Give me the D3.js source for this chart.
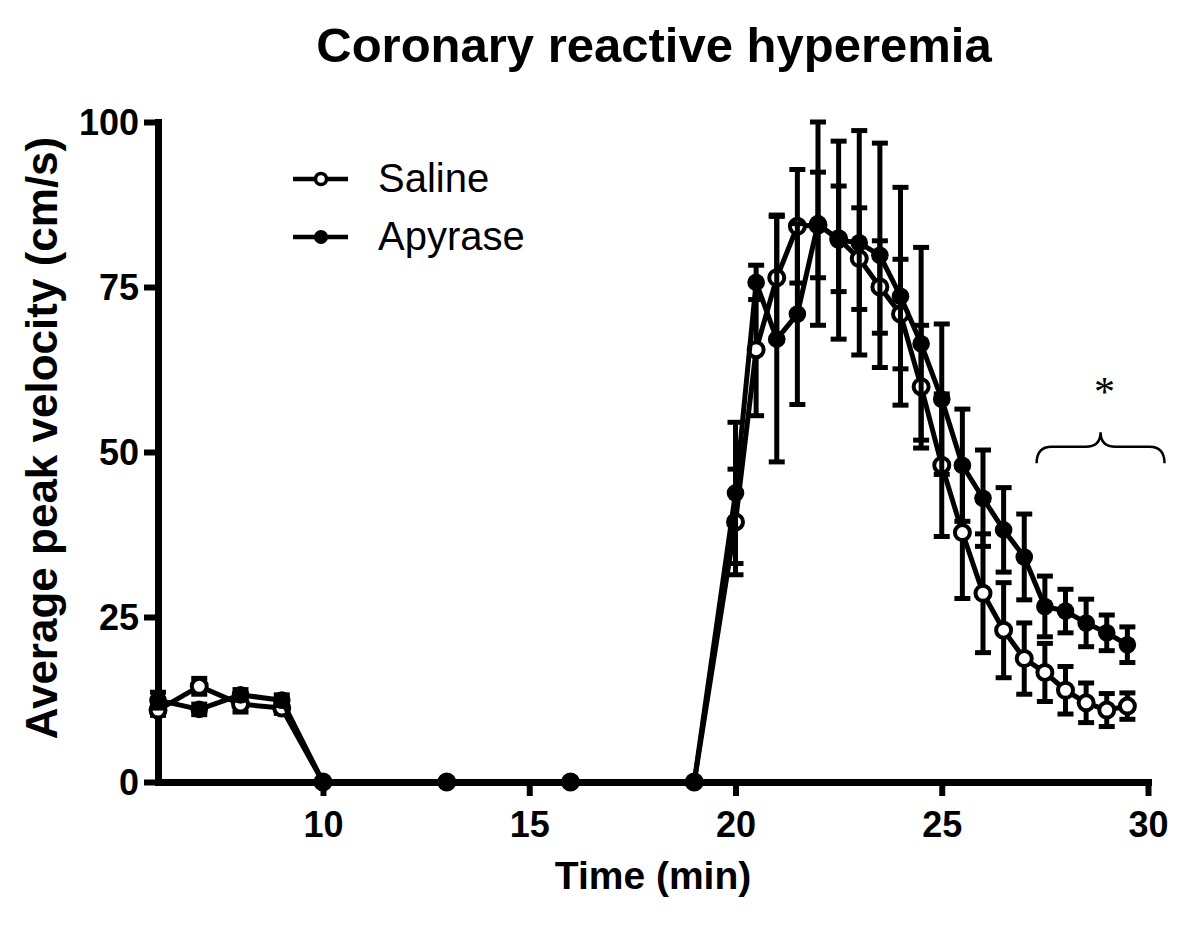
<!DOCTYPE html>
<html>
<head>
<meta charset="utf-8">
<script src="https://cdn.jsdelivr.net/npm/d3@7"></script>
<style>
  html, body { margin: 0; padding: 0; background: #fff; }
  svg { display: block; }
  text { font-family: "Liberation Sans", Arial, sans-serif; fill: #000; }
</style>
</head>
<body>
<svg id="chart" width="1200" height="934"></svg>
<script>
// ---- data ----
const times = [6, 7, 8, 9, 10, 13, 16, 19, 20, 20.5, 21, 21.5, 22, 22.5, 23, 23.5, 24, 24.5, 25, 25.5, 26, 26.5, 27, 27.5, 28, 28.5, 29, 29.5];
const salineMean = [10.9, 14.5, 11.8, 11.2, 0, 0, 0, 0, 39.4, 65.5, 76.4, 84.2, 84.4, 82.3, 79.3, 75.0, 70.9, 59.9, 48.0, 37.8, 28.6, 23.0, 18.7, 16.6, 13.9, 12.0, 10.9, 11.5];
const salineErr  = [0.8, 1.2, 1.2, 0.8, 0, 0, 0, 0, 8.0, 10.0, 9.5, 8.6, 8.0, 8.0, 7.7, 7.0, 8.3, 9.3, 10.8, 10.0, 9.0, 7.2, 5.4, 4.4, 3.6, 3.0, 2.5, 2.0];
const apyraseMean = [12.4, 11.0, 13.2, 12.4, 0, 0, 0, 0, 43.8, 75.7, 67.1, 70.9, 84.6, 82.1, 81.7, 79.8, 73.6, 66.4, 58.0, 48.0, 43.0, 38.2, 34.1, 26.6, 25.9, 24.1, 22.6, 20.8];
const apyraseErr  = [1.2, 0.8, 0.8, 0.8, 0, 0, 0, 0, 10.7, 2.6, 18.6, 13.7, 15.4, 15.0, 17.0, 17.0, 16.5, 14.6, 11.4, 8.5, 7.3, 6.4, 6.5, 4.6, 3.3, 3.6, 2.7, 2.7];
const xTicks = [10, 15, 20, 25, 30];
const yTicks = [0, 25, 50, 75, 100];
const seriesNames = ["Saline", "Apyrase"];
const titleText = "Coronary reactive hyperemia";
const xLabel = "Time (min)";
const yLabel = "Average peak velocity (cm/s)";
// significance brace over the last minutes (x range, y levels)
const braceX = [27.3, 30.4];
const braceY = [48.3, 50.8, 53.0];
const sigMark = "*";

// ---- layout ----
const svg = d3.select("#chart");
const x = d3.scaleLinear().domain([6, 30]).range([158, 1148]);
const y = d3.scaleLinear().domain([0, 100]).range([782, 122]);

// title
svg.append("text").attr("x", 654).attr("y", 62).attr("text-anchor", "middle")
  .style("font-size", "49px").style("font-weight", "bold").text(titleText);

// axes
const axisW = 7;
const xAxis = svg.append("g").attr("transform", `translate(0,${y(0)})`)
  .call(d3.axisBottom(x).tickValues(xTicks).tickSize(14).tickSizeOuter(0).tickPadding(15));
const yAxis = svg.append("g").attr("transform", `translate(${x(6)},0)`)
  .call(d3.axisLeft(y).tickValues(yTicks).tickSize(14).tickSizeOuter(0).tickPadding(5));
[xAxis, yAxis].forEach(g => {
  g.select(".domain").attr("stroke", "#000").attr("stroke-width", axisW).attr("stroke-linecap", "square");
  g.selectAll(".tick line").attr("stroke", "#000").attr("stroke-width", 6);
  g.selectAll(".tick text").style("font-size", "36px").style("font-weight", "bold")
    .style("font-family", "'Liberation Sans', Arial, sans-serif").attr("fill", "#000");
});
xAxis.selectAll(".tick text").attr("dy", "0.71em");
yAxis.selectAll(".tick text").attr("dy", "0.36em");

// axis labels
svg.append("text").attr("x", 653).attr("y", 889).attr("text-anchor", "middle")
  .style("font-size", "39px").style("font-weight", "bold").text(xLabel);
svg.append("text").attr("transform", `translate(57,${(y(0) + y(100)) / 2 - 14}) rotate(-90)`)
  .attr("text-anchor", "middle").style("font-size", "44px").style("font-weight", "bold").text(yLabel);

// series
function drawSeries(mean, err, open) {
  const data = times.map((t, i) => ({ t, m: mean[i], e: err[i] }));
  const g = svg.append("g");
  const eb = g.selectAll(".eb").data(data.filter(d => d.e > 0)).enter().append("g");
  eb.append("line").attr("x1", d => x(d.t)).attr("x2", d => x(d.t))
    .attr("y1", d => y(d.m - d.e)).attr("y2", d => y(d.m + d.e))
    .attr("stroke", "#000").attr("stroke-width", 5);
  [-1, 1].forEach(s => {
    eb.append("line").attr("x1", d => x(d.t) - 8).attr("x2", d => x(d.t) + 8)
      .attr("y1", d => y(d.m + s * d.e)).attr("y2", d => y(d.m + s * d.e))
      .attr("stroke", "#000").attr("stroke-width", 5);
  });
  g.append("path").datum(data)
    .attr("d", d3.line().x(d => x(d.t)).y(d => y(d.m)))
    .attr("fill", "none").attr("stroke", "#000").attr("stroke-width", 5).attr("stroke-linejoin", "round");
  g.selectAll(".pt").data(data).enter().append("circle")
    .attr("cx", d => x(d.t)).attr("cy", d => y(d.m))
    .attr("r", open ? 7.5 : 8.8)
    .attr("fill", open ? "#fff" : "#000")
    .attr("stroke", "#000").attr("stroke-width", open ? 4 : 0);
}
drawSeries(salineMean, salineErr, true);
drawSeries(apyraseMean, apyraseErr, false);

// legend
const legend = svg.append("g");
seriesNames.forEach((name, i) => {
  const ly = 179 + i * 58;
  legend.append("line").attr("x1", 293).attr("x2", 348).attr("y1", ly).attr("y2", ly)
    .attr("stroke", "#000").attr("stroke-width", 4.5);
  legend.append("circle").attr("cx", 321).attr("cy", ly).attr("r", i === 0 ? 5.5 : 7)
    .attr("fill", i === 0 ? "#fff" : "#000").attr("stroke", "#000").attr("stroke-width", i === 0 ? 3.5 : 0);
  legend.append("text").attr("x", 378).attr("y", ly + 13)
    .style("font-size", "40px").text(name);
});

// significance brace
const bx0 = x(braceX[0]), bx1 = x(braceX[1]), bxm = (bx0 + bx1) / 2;
const yEnd = y(braceY[0]), yMid = y(braceY[1]), yTip = y(braceY[2]);
const r = 10;
const bracePath = `M${bx0},${yEnd} Q${bx0},${yMid} ${bx0 + r * 1.5},${yMid} L${bxm - r * 1.5},${yMid} Q${bxm},${yMid} ${bxm},${yTip}` +
  ` Q${bxm},${yMid} ${bxm + r * 1.5},${yMid} L${bx1 - r * 1.5},${yMid} Q${bx1},${yMid} ${bx1},${yEnd}`;
svg.append("path").attr("d", bracePath).attr("fill", "none").attr("stroke", "#000").attr("stroke-width", 2.5);
svg.append("text").attr("x", bxm + 4).attr("y", 406).attr("text-anchor", "middle")
  .style("font-family", "'Liberation Serif', 'Times New Roman', serif").style("font-size", "42px").text(sigMark);
</script>
</body>
</html>
